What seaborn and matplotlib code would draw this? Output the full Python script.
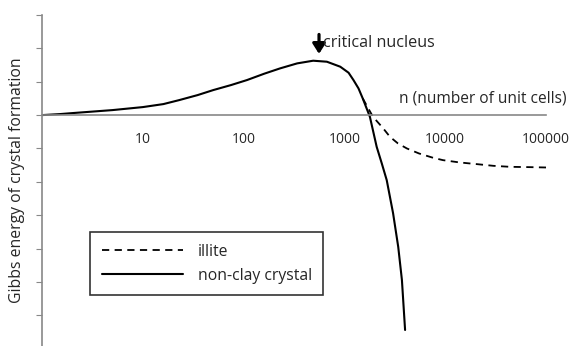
import matplotlib
matplotlib.use('Agg')
import matplotlib.pyplot as plt
import seaborn as sns
import pandas as pd

# non-clay crystal curve (n, Gibbs energy)
n_crystal = [1, 1.5, 2, 3, 5, 10, 16, 23, 35, 50, 75, 108, 160, 230, 340, 490, 670,
             910, 1100, 1230, 1380, 1520, 1790, 2090, 2350, 2630, 3040, 3420, 3720, 4000]
g_crystal = [0.0, 0.03, 0.06, 0.1, 0.15, 0.24, 0.33, 0.45, 0.6, 0.75, 0.9, 1.05, 1.24, 1.4, 1.55, 1.63, 1.6,
             1.45, 1.27, 1.05, 0.8, 0.5, -0.05, -0.95, -1.45, -1.95, -2.94, -3.95, -4.94, -6.44]

# illite curve branches off near the critical size
n_illite = [1520, 1920, 2400, 2830, 3400, 4170, 5500, 7600, 9500, 14000, 20700, 30000, 44000, 70000, 100000]
g_illite = [0.5, -0.05, -0.38, -0.65, -0.85, -1.0, -1.15, -1.28, -1.35, -1.42, -1.47, -1.52, -1.55, -1.56, -1.57]

x_ticks = [10, 100, 1000, 10000, 100000]
x_tick_labels = ['10', '100', '1000', '10000', '100000']

sns.set_style('white')
plt.rcParams['font.family'] = ['Open Sans', 'DejaVu Sans']

df_c = pd.DataFrame({'n': n_crystal, 'G': g_crystal})
df_i = pd.DataFrame({'n': n_illite, 'G': g_illite})

fig = plt.figure(figsize=(5.72, 3.46), dpi=100)
ax = fig.add_axes([42 / 572, 0.0, 504 / 572, 1 - 15 / 346])

sns.lineplot(data=df_i, x='n', y='G', ax=ax, color='black', linewidth=1.3,
             linestyle=(0, (4, 3)), label='illite')
sns.lineplot(data=df_c, x='n', y='G', ax=ax, color='black', linewidth=1.5,
             label='non-clay crystal')

ax.set_xscale('log')
ax.set_xlim(1, 100000)
ax.set_ylim(-6.92, 3)

ax.spines['bottom'].set_position(('data', 0))
ax.spines['top'].set_visible(False)
ax.spines['right'].set_visible(False)
for s in ['left', 'bottom']:
    ax.spines[s].set_color('#888888')
    ax.spines[s].set_linewidth(1.2)

ax.set_xticks(x_ticks)
ax.set_xticklabels(x_tick_labels, fontsize=10)
ax.xaxis.set_minor_locator(matplotlib.ticker.NullLocator())
ax.tick_params(axis='x', direction='inout', length=5, color='#888888', pad=10)
ax.set_yticks(range(-6, 4))
ax.set_yticklabels([])
ax.tick_params(axis='y', direction='out', length=4, color='#888888', left=True)

ax.set_xlabel('')
ax.set_ylabel('Gibbs energy of crystal formation', fontsize=11.3)
ax.yaxis.set_label_coords(-0.034, 0.5)

ax.text(100000 * 1.58, 0.5, 'n (number of unit cells)', ha='right', va='center', fontsize=11.2)
ax.annotate('', xy=(560, 1.75), xytext=(560, 2.5),
            arrowprops=dict(arrowstyle='-|>,head_width=0.38,head_length=0.6', color='black', lw=2.3))
ax.text(620, 2.15, 'critical nucleus', ha='left', va='center', fontsize=11.6)

leg = ax.legend(loc='upper left', bbox_to_anchor=(48 / 504, (346 - 232) / 331),
                frameon=True, fontsize=11.3, handlelength=5.2, handletextpad=0.9,
                borderpad=0.75, borderaxespad=0, labelspacing=0.5, fancybox=False)
leg.get_frame().set_edgecolor('black')
leg.get_frame().set_linewidth(1.2)

fig.savefig('out.png', dpi=100)
